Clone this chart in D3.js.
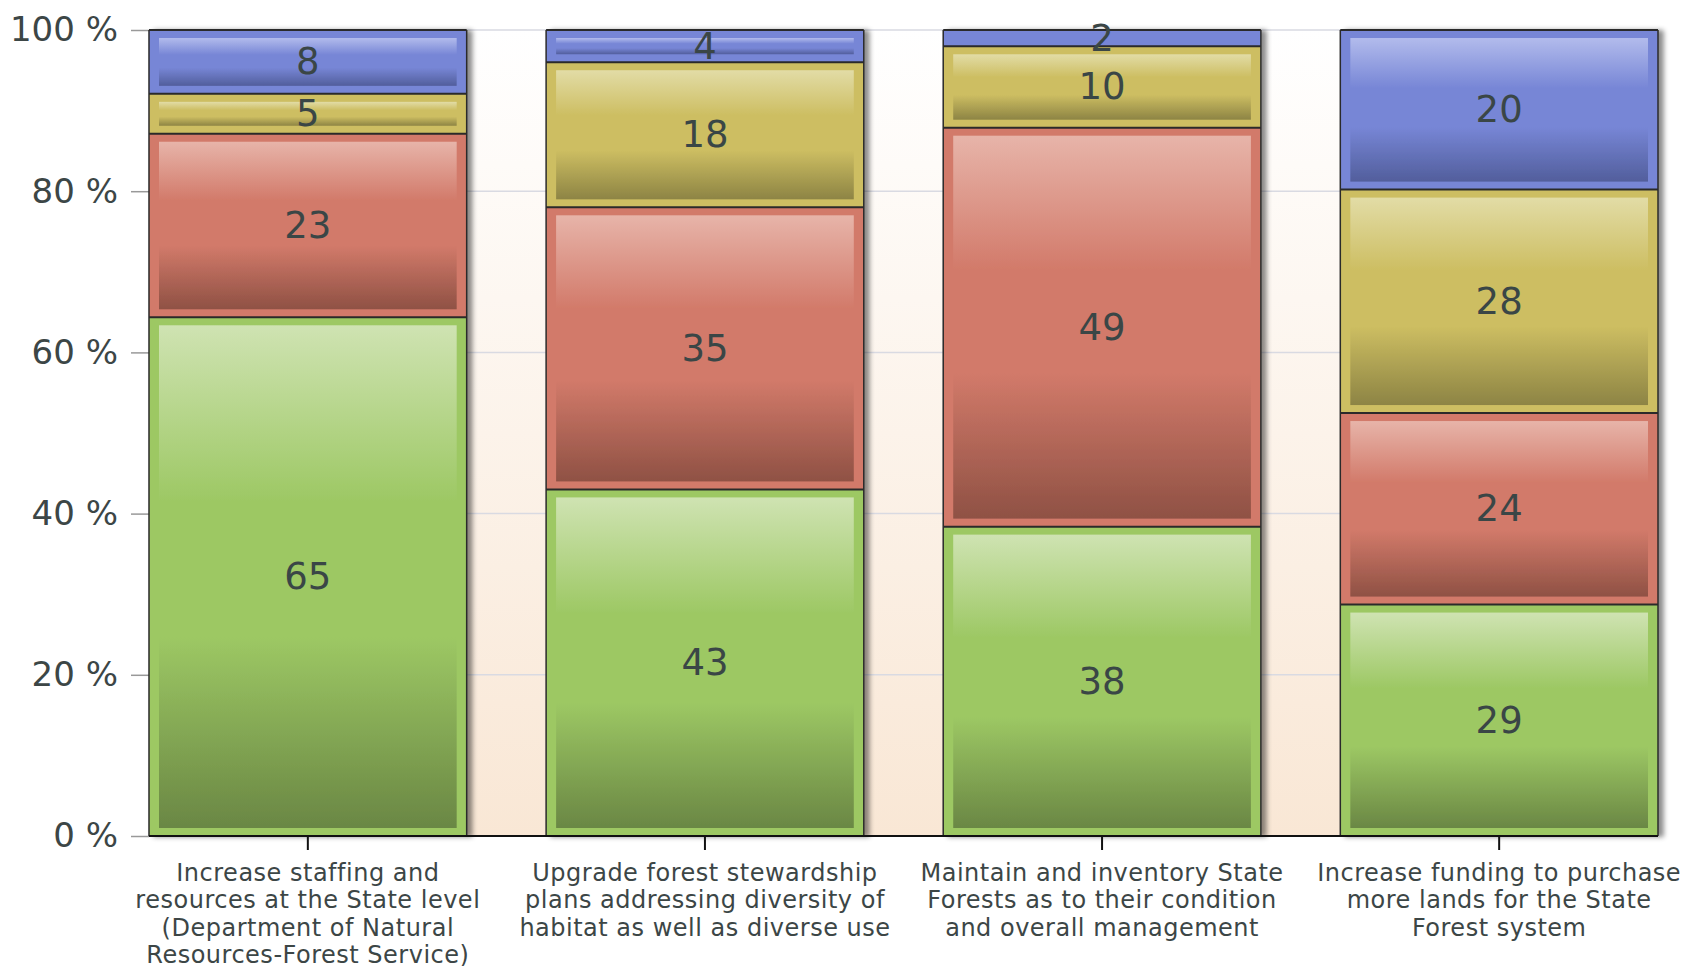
<!DOCTYPE html>
<html lang="en">
<head>
    <meta charset="UTF-8">
    <title>Stacked percent bars</title>
    <style>
        html, body { margin: 0; padding: 0; background: #fff; }
        svg { display: block; }
        .ytick text { font-family: "DejaVu Sans", sans-serif; font-size: 34px; fill: #3c4646; }
        .cat text { font-family: "DejaVu Sans", sans-serif; font-size: 24px; letter-spacing: 0.5px; fill: #3c4646; }
        .val { font-family: "DejaVu Sans", sans-serif; font-size: 37px; fill: #3a4646; }
    </style>
</head>
<body>
<svg id="chart" width="1683" height="966"></svg>
<script src="https://cdnjs.cloudflare.com/ajax/libs/d3/7.8.5/d3.min.js"></script>
<script>
// categories, one entry per bar, already split into lines
const categories = [
    ["Increase staffing and", "resources at the State level", "(Department of Natural", "Resources-Forest Service)"],
    ["Upgrade forest stewardship", "plans addressing diversity of", "habitat as well as diverse use"],
    ["Maintain and inventory State", "Forests as to their condition", "and overall management"],
    ["Increase funding to purchase", "more lands for the State", "Forest system"]
];
// series, bottom to top
const seriesKeys = ["green", "red", "yellow", "blue"];
const greenValues = [65, 43, 38, 29];
const redValues = [23, 35, 49, 24];
const yellowValues = [5, 18, 10, 28];
const blueValues = [8, 4, 2, 20];
const yTicks = [0, 20, 40, 60, 80, 100];

const palette = {
    green:  { base: "#9dc864", light: "#cfe3b2", dark: "#6a8744" },
    red:    { base: "#d27a6a", light: "#e7b4a9", dark: "#8f5144" },
    yellow: { base: "#cdbe62", light: "#e2dca6", dark: "#8d8444" },
    blue:   { base: "#7786d6", light: "#b2bbec", dark: "#525e9c" }
};

const W = 1683, H = 966;
const margin = { top: 30, right: 25, bottom: 130, left: 149 };
const innerW = W - margin.left - margin.right;
const innerH = H - margin.top - margin.bottom;

const rows = categories.map((c, i) => ({
    idx: i,
    green: greenValues[i], red: redValues[i], yellow: yellowValues[i], blue: blueValues[i]
}));
const stacked = d3.stack().keys(seriesKeys).offset(d3.stackOffsetExpand)(rows);

const x = d3.scaleBand().domain(d3.range(categories.length)).range([0, innerW])
    .paddingInner(0.2).paddingOuter(0);
const y = d3.scaleLinear().domain([0, 1]).range([innerH, 0]);

const svg = d3.select("#chart");
const defs = svg.append("defs");

const bg = defs.append("linearGradient").attr("id", "bg").attr("x1", 0).attr("y1", 0).attr("x2", 0).attr("y2", 1);
bg.append("stop").attr("offset", "0%").attr("stop-color", "#ffffff");
bg.append("stop").attr("offset", "100%").attr("stop-color", "#f9e7d5");

seriesKeys.forEach(k => {
    const g = defs.append("linearGradient").attr("id", "g-" + k).attr("x1", 0).attr("y1", 0).attr("x2", 0).attr("y2", 1);
    g.append("stop").attr("offset", "0%").attr("stop-color", palette[k].light);
    g.append("stop").attr("offset", "35%").attr("stop-color", palette[k].base);
    g.append("stop").attr("offset", "62%").attr("stop-color", palette[k].base);
    g.append("stop").attr("offset", "100%").attr("stop-color", palette[k].dark);
});

const shadow = defs.append("filter").attr("id", "shadow")
    .attr("x", "-5%").attr("y", "-5%").attr("width", "115%").attr("height", "110%");
shadow.append("feDropShadow").attr("dx", 5).attr("dy", 1).attr("stdDeviation", 2.5)
    .attr("flood-color", "#000").attr("flood-opacity", 0.45);

const plot = svg.append("g").attr("transform", `translate(${margin.left},${margin.top})`);

plot.append("rect").attr("width", innerW).attr("height", innerH).attr("fill", "url(#bg)");

// gridlines
plot.append("g").selectAll("line").data(yTicks.filter(t => t > 0)).join("line")
    .attr("x1", 0).attr("x2", innerW)
    .attr("y1", d => y(d / 100)).attr("y2", d => y(d / 100))
    .attr("stroke", "#d9dae2").attr("stroke-width", 1.5);

// y axis
const yAxis = plot.append("g").attr("class", "ytick")
    .call(d3.axisLeft(y).tickValues(yTicks.map(t => t / 100)).tickSize(18).tickPadding(13)
        .tickFormat(d => Math.round(d * 100) + " %"));
yAxis.select(".domain").remove();
yAxis.selectAll(".tick line").attr("stroke", "#999").attr("stroke-width", 1.5);

// bars
const bars = plot.append("g").selectAll("g.bar").data(categories.map((c, i) => i)).join("g")
    .attr("class", "bar")
    .attr("filter", "url(#shadow)");

bars.each(function (i) {
    const g = d3.select(this);
    const bw = x.bandwidth();
    stacked.forEach(s => {
        const d = s[i];
        const y0 = y(d[1]), y1 = y(d[0]);
        const h = y1 - y0;
        g.append("rect")
            .attr("x", x(i)).attr("y", y0).attr("width", bw).attr("height", h)
            .attr("fill", palette[s.key].base);
        const inset = 10, vin = 8;
        if (h - 2 * vin > 4) {
            g.append("rect")
                .attr("x", x(i) + inset).attr("y", y0 + vin)
                .attr("width", bw - 2 * inset).attr("height", h - 2 * vin)
                .attr("fill", `url(#g-${s.key})`);
        }
    });
    // outlines: sides and segment tops
    const top = y(1), bottom = y(0);
    g.append("line").attr("x1", x(i)).attr("x2", x(i)).attr("y1", top).attr("y2", bottom)
        .attr("stroke", "#2a2a2a").attr("stroke-width", 1.5);
    g.append("line").attr("x1", x(i) + bw).attr("x2", x(i) + bw).attr("y1", top).attr("y2", bottom)
        .attr("stroke", "#2a2a2a").attr("stroke-width", 1.5);
    stacked.forEach(s => {
        const yy = y(s[i][1]);
        g.append("line").attr("x1", x(i)).attr("x2", x(i) + bw).attr("y1", yy).attr("y2", yy)
            .attr("stroke", "#2a2a2a").attr("stroke-width", 2);
    });
});

// value labels
const labels = [];
stacked.forEach(s => s.forEach((d, i) => labels.push({ i, key: s.key, v: d.data[s.key], mid: (d[0] + d[1]) / 2 })));
plot.append("g").selectAll("text").data(labels).join("text")
    .attr("class", "val")
    .attr("x", d => x(d.i) + x.bandwidth() / 2)
    .attr("y", d => y(d.mid))
    .attr("text-anchor", "middle")
    .attr("dominant-baseline", "central")
    .text(d => d.v);

// x axis
const xAxis = plot.append("g").attr("transform", `translate(0,${innerH})`);
xAxis.append("line").attr("x1", 0).attr("x2", innerW).attr("stroke", "#111").attr("stroke-width", 2);
xAxis.selectAll("line.tk").data(categories.map((c, i) => i)).join("line").attr("class", "tk")
    .attr("x1", d => x(d) + x.bandwidth() / 2).attr("x2", d => x(d) + x.bandwidth() / 2)
    .attr("y1", 0).attr("y2", 14).attr("stroke", "#111").attr("stroke-width", 2);

const cat = xAxis.append("g").attr("class", "cat");
cat.selectAll("text").data(categories.map((c, i) => i)).join("text")
    .attr("text-anchor", "middle")
    .attr("transform", d => `translate(${x(d) + x.bandwidth() / 2},45)`)
    .selectAll("tspan").data(d => categories[d]).join("tspan")
    .attr("x", 0).attr("y", (d, k) => k * 27.4)
    .text(d => d);
</script>
</body>
</html>
